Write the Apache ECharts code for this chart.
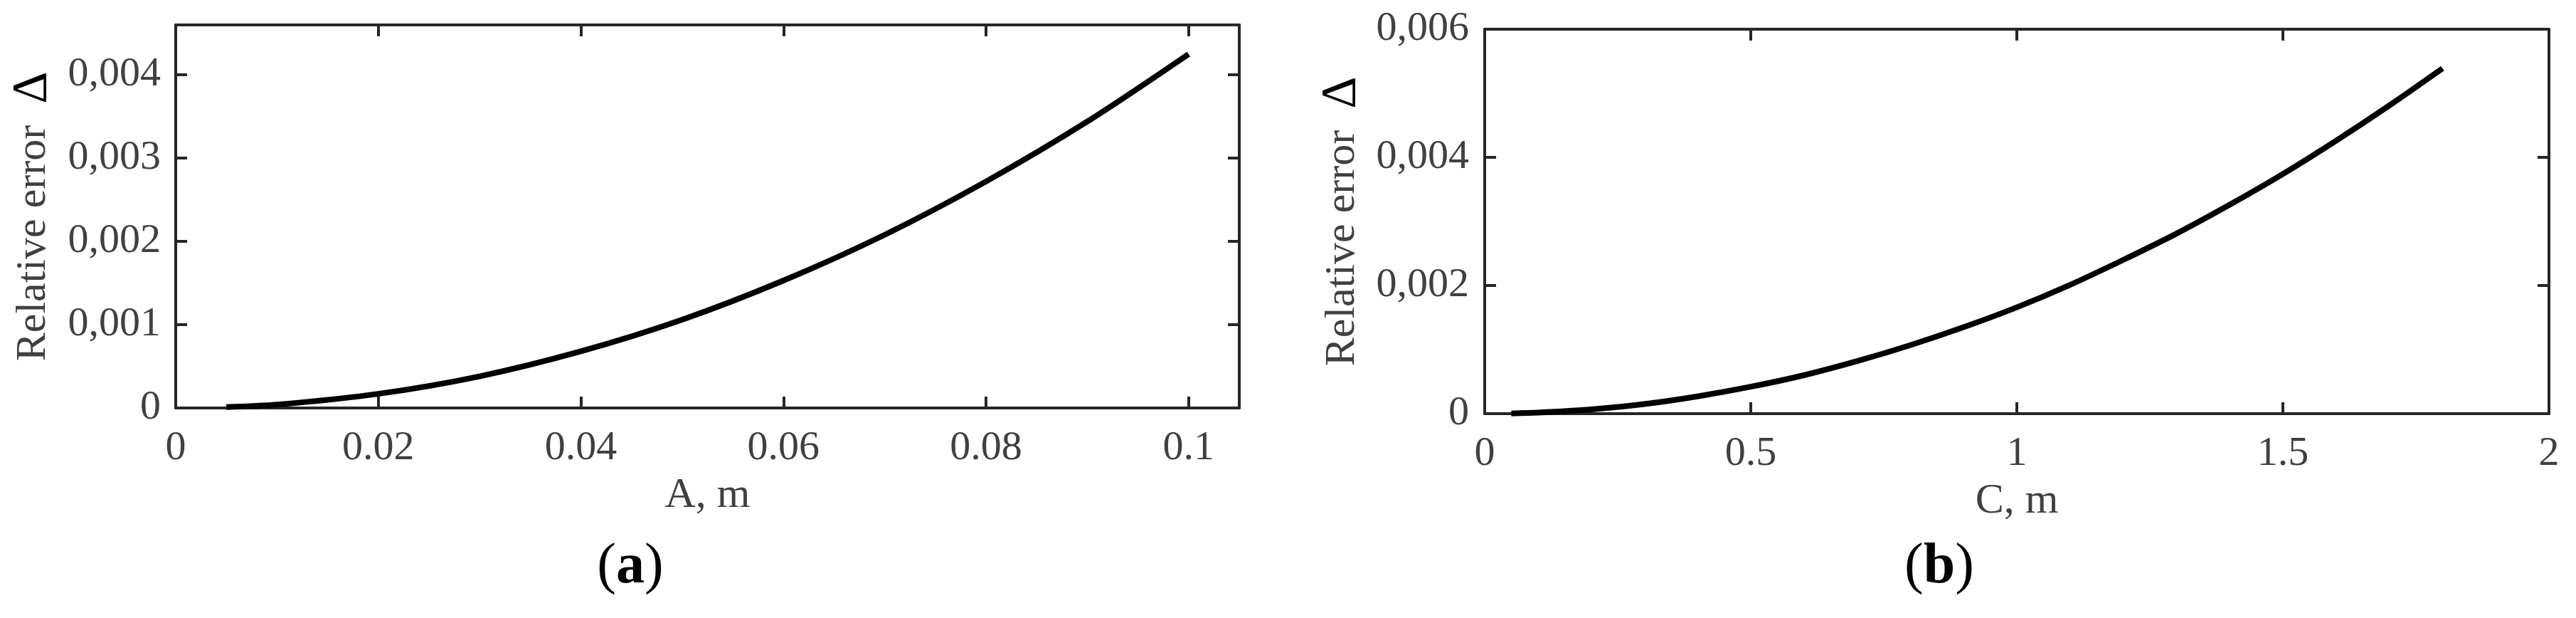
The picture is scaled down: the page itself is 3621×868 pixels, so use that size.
<!DOCTYPE html>
<html>
<head>
<meta charset="utf-8">
<script src="https://cdn.jsdelivr.net/npm/echarts@6/dist/echarts.min.js"></script>
<style>
  html, body { margin: 0; padding: 0; background: #fff; }
  #chart { width: 3621px; height: 868px; }
</style>
</head>
<body>
<div id="chart"></div>
<script>
// panel (a): relative error vs A
var aX = [0.005, 0.01, 0.02, 0.03, 0.04, 0.05, 0.06, 0.07, 0.08, 0.09, 0.1];
var aY = [0.00001, 0.00004, 0.00017, 0.00038, 0.00068, 0.00106, 0.00153, 0.00208, 0.00272, 0.00344, 0.00425];

// panel (b): relative error vs C
var bX = [0.05, 0.1, 0.2, 0.3, 0.4, 0.5, 0.6, 0.7, 0.8, 0.9, 1.0, 1.1, 1.2, 1.3, 1.4, 1.5, 1.6, 1.7, 1.8];
var bY = [0.000004, 0.000017, 0.000067, 0.00015, 0.00027, 0.00042, 0.0006, 0.00082, 0.00107, 0.00135,
          0.00166, 0.00201, 0.0024, 0.00281, 0.00326, 0.00374, 0.00426, 0.00481, 0.00539];

var xNames = ['A, m', 'C, m'];
var yName = 'Relative error';
var panelTags = ['a', 'b'];

var FONT = '"Liberation Serif", "Times New Roman", serif';
var AXIS_COLOR = '#262626';
var TEXT_COLOR = '#404040';

function pairs(xs, ys) {
  var out = [];
  for (var i = 0; i < xs.length; i++) out.push([xs[i], ys[i]]);
  return out;
}

// y labels use a decimal comma: 0,001
function commaLabel(v) {
  if (v === 0) return '0';
  return v.toFixed(3).replace('.', ',');
}

function boxAxis(gridIndex, position, showLabel, extra) {
  var ax = {
    type: 'value',
    gridIndex: gridIndex,
    position: position,
    splitLine: { show: false },
    axisLine: { show: true, onZero: false, lineStyle: { color: AXIS_COLOR, width: 4 } },
    axisTick: { show: true, inside: true, length: 16, lineStyle: { color: AXIS_COLOR, width: 4 } },
    axisLabel: { show: showLabel, color: TEXT_COLOR, fontFamily: FONT, fontSize: 58 }
  };
  for (var k in extra) ax[k] = extra[k];
  return ax;
}

function yTitle() {
  return {
    name: '{t|' + yName + '}{d|Δ}',
    nameLocation: 'middle',
    nameRotate: 90,
    nameTextStyle: {
      rich: {
        t: { fontFamily: FONT, fontSize: 60, color: TEXT_COLOR },
        d: { fontFamily: FONT, fontSize: 70, color: '#000', padding: [0, 0, 0, 30] }
      }
    }
  };
}

var xa = { min: 0, max: 0.105, interval: 0.02 };
var ya = { min: 0, max: 0.0046, interval: 0.001 };
var xb = { min: 0, max: 2, interval: 0.5 };
var yb = { min: 0, max: 0.006, interval: 0.002 };

var xAxes = [
  boxAxis(0, 'bottom', true, Object.assign({}, xa, {
    name: xNames[0], nameLocation: 'middle', nameGap: 93,
    nameTextStyle: { fontFamily: FONT, fontSize: 60, color: TEXT_COLOR }
  })),
  boxAxis(0, 'top', false, Object.assign({}, xa)),
  boxAxis(1, 'bottom', true, Object.assign({}, xb, {
    name: xNames[1], nameLocation: 'middle', nameGap: 93,
    nameTextStyle: { fontFamily: FONT, fontSize: 60, color: TEXT_COLOR }
  })),
  boxAxis(1, 'top', false, Object.assign({}, xb))
];
xAxes[0].axisLabel.margin = 28;
xAxes[0].axisLabel.showMaxLabel = false;
xAxes[2].axisLabel.margin = 28;

var yAxes = [
  boxAxis(0, 'left', true, Object.assign({}, ya, yTitle(), { nameGap: 165 })),
  boxAxis(0, 'right', false, Object.assign({}, ya)),
  boxAxis(1, 'left', true, Object.assign({}, yb, yTitle(), { nameGap: 165 })),
  boxAxis(1, 'right', false, Object.assign({}, yb))
];
yAxes[0].axisLabel.formatter = commaLabel;
yAxes[0].axisLabel.showMaxLabel = false;
yAxes[0].axisLabel.margin = 21;
yAxes[2].axisLabel.formatter = commaLabel;
yAxes[2].axisLabel.margin = 22;

function tagText(letter, cx) {
  return {
    type: 'text',
    x: cx, y: 797,
    style: {
      text: '{p|(}{b|' + letter + '}{p|)}',
      align: 'center', verticalAlign: 'middle',
      rich: {
        p: { fontFamily: FONT, fontSize: 80, color: '#000' },
        b: { fontFamily: FONT, fontSize: 80, fontWeight: 'bold', color: '#000' }
      }
    }
  };
}

var chart = echarts.init(document.getElementById('chart'));
chart.setOption({
  backgroundColor: '#fff',
  animation: false,
  grid: [
    { left: 247, right: 1879, top: 35, bottom: 295 },
    { left: 2087, right: 38, top: 41, bottom: 287 }
  ],
  xAxis: xAxes,
  yAxis: yAxes,
  series: [
    {
      type: 'line', xAxisIndex: 0, yAxisIndex: 0,
      data: pairs(aX, aY), smooth: 0.3, showSymbol: false,
      lineStyle: { color: '#000', width: 8 }
    },
    {
      type: 'line', xAxisIndex: 2, yAxisIndex: 2,
      data: pairs(bX, bY), smooth: 0.3, showSymbol: false,
      lineStyle: { color: '#000', width: 8 }
    }
  ],
  graphic: [tagText(panelTags[0], 886), tagText(panelTags[1], 2726)]
});
</script>
</body>
</html>
